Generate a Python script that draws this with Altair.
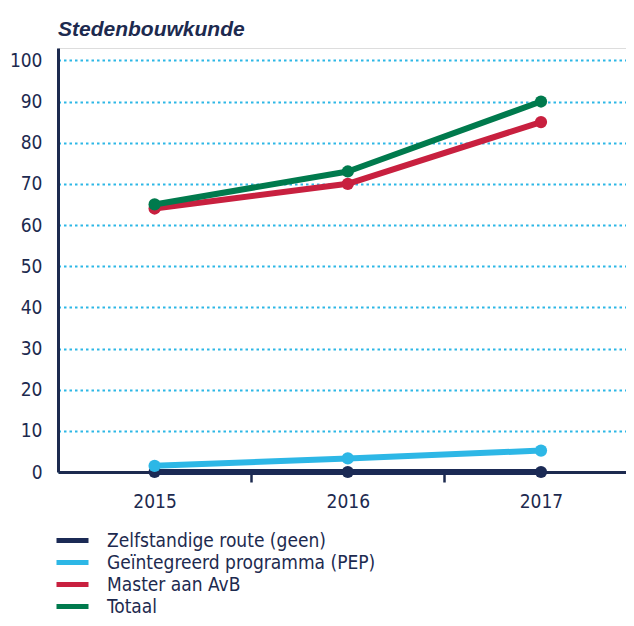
import altair as alt
import pandas as pd

years = [2015, 2016, 2017]
series_names = [
    "Zelfstandige route (geen)",
    "Geïntegreerd programma (PEP)",
    "Master aan AvB",
    "Totaal",
]
zelfstandige = [0, 0, 0]
pep = [1.5, 3.3, 5.2]
master = [64, 70, 85]
totaal = [65, 73, 90]
colors = ["#1b2a55", "#2db7e6", "#c8203f", "#007a4d"]
y_ticks = list(range(0, 101, 10))
x_ticks = [2015, 2015.5, 2016, 2016.5, 2017]

rows = []
for k, (name, vals) in enumerate(zip(series_names, [zelfstandige, pep, master, totaal])):
    for yr, v in zip(years, vals):
        rows.append({"jaar": yr, "serie": name, "waarde": v, "volgorde": k})
df = pd.DataFrame(rows)

FONT = "Liberation Sans Narrow, DejaVu Sans Condensed, Roboto Condensed, Liberation Sans, sans-serif"
NAVY = "#1d2a4f"

x = alt.X(
    "jaar:Q",
    scale=alt.Scale(domain=[2014.5, 2017.44], nice=False, zero=False),
    axis=alt.Axis(
        title=None, values=x_ticks,
        labelExpr="datum.value % 1 == 0 ? format(datum.value, 'd') : ''",
        tickOpacity={"condition": {"test": "datum.value % 1 == 0", "value": 0}, "value": 1},
        domainColor=NAVY, domainWidth=3,
        tickColor=NAVY, tickWidth=2.5, tickSize=10, labelPadding=10, labelFontSize=19,
        labelColor=NAVY, labelFont=FONT, grid=False, labelFlush=False,
    ),
)
y = alt.Y(
    "waarde:Q",
    scale=alt.Scale(domain=[0, 103], nice=False),
    axis=alt.Axis(
        title=None, values=y_ticks, ticks=False, domainColor=NAVY, domainWidth=3,
        labelPadding=16, labelFontSize=19, labelColor=NAVY, labelFont=FONT,
        grid=True, gridColor="#2db7e6", gridDash=[2.5, 3], gridWidth=2,
    ),
)
legend = alt.Legend(
    title=None, orient="none", legendX=4, legendY=482, direction="vertical",
    symbolType="M-2,0H2", symbolSize=256, symbolStrokeWidth=5,
    labelFontSize=19, labelFont=FONT, labelColor=NAVY, labelOffset=24, rowPadding=1,
    labelLimit=400,
)
color = alt.Color("serie:N", scale=alt.Scale(domain=series_names, range=colors), legend=legend)

base = alt.Chart(df).encode(x=x, y=y, color=color)
lines = base.mark_line(strokeWidth=6, strokeCap="round", strokeJoin="round")
points = base.mark_point(filled=True, size=150, opacity=1).encode(order="volgorde:Q")

chart = (
    alt.layer(lines, points)
    .properties(
        width=568,
        height=424,
        autosize=alt.AutoSizeParams(type="none"),
        padding={"left": 50, "top": 40, "right": 0, "bottom": 146},
        title=alt.TitleParams(
            "Stedenbouwkunde", anchor="start", frame="group", font="Liberation Sans",
            fontSize=21, fontStyle="italic", fontWeight="bold", color=NAVY,
            baseline="alphabetic", offset=11, dy=20,
        ),
    )
    .configure_view(stroke=None, fill="#f3f9fd")
    .configure(background="white")
)

chart.save("out.html", embed_options={"renderer": "svg", "actions": False})
